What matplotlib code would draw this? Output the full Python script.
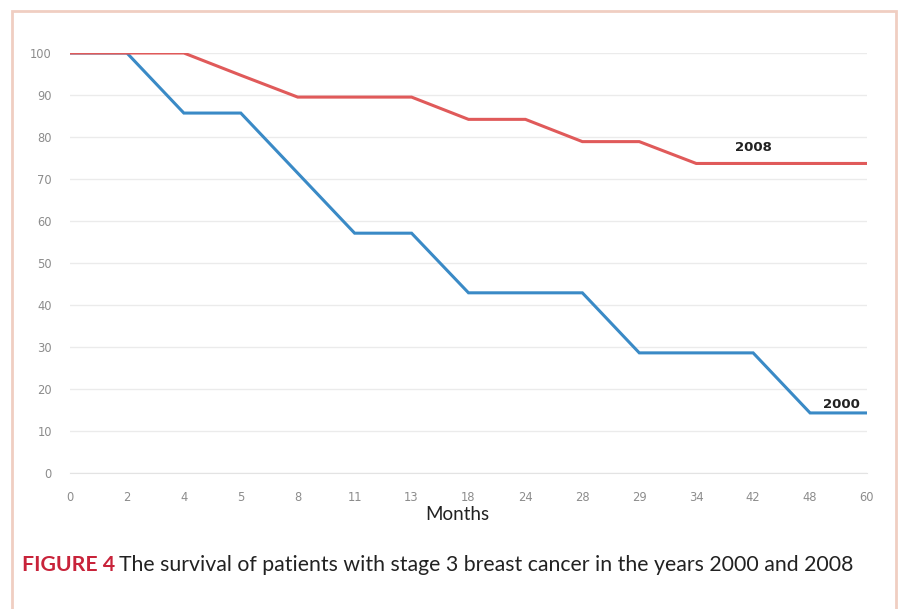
import matplotlib.pyplot as plt
from matplotlib.patches import Rectangle

# kategoriler (ay) ve iki yilin sagkalim degerleri (%)
months = ['0', '2', '4', '5', '8', '11', '13', '18', '24', '28', '29', '34', '42', '48', '60']
surv_2008 = [100, 100, 100, 94.7, 89.5, 89.5, 89.5, 84.2, 84.2, 78.9, 78.9, 73.7, 73.7, 73.7, 73.7]
surv_2000 = [100, 100, 85.7, 85.7, 71.4, 57.1, 57.1, 42.9, 42.9, 42.9, 28.6, 28.6, 28.6, 14.3, 14.3]
yticks = list(range(0, 101, 10))

fig = plt.figure(figsize=(9, 6.09), dpi=100)

# sayfadaki pembe cerceve
fig.patches.append(Rectangle((12 / 900, -0.05), 884 / 900, 1.05 - 11 / 609,
                             transform=fig.transFigure, fill=False,
                             edgecolor='#F0CEC2', linewidth=2))

ax = fig.add_axes([70 / 900, 1 - 473 / 609, 797 / 900, 420 / 609])
x = list(range(len(months)))
ax.plot(x, surv_2000, color='#3A8AC6', linewidth=2.2, solid_joinstyle='miter')
ax.plot(x, surv_2008, color='#E05A5A', linewidth=2.2, solid_joinstyle='miter')

ax.set_xlim(0, len(months) - 1)
ax.set_ylim(0, 100)
ax.set_xticks(x)
ax.set_xticklabels(months)
ax.set_yticks(yticks)
ax.tick_params(axis='both', length=0, labelsize=8.3, labelcolor='#8C8C8C')
ax.tick_params(axis='x', pad=13)
ax.tick_params(axis='y', pad=13)
ax.grid(axis='y', color='#EBEBEB', linewidth=1)
ax.set_axisbelow(True)
for s in ['top', 'right', 'left']:
    ax.spines[s].set_visible(False)
ax.spines['bottom'].set_color('#E3E3E3')

# seri etiketleri
ax.text(12, 77.5, '2008', fontsize=9.5, fontweight='bold', color='#222222', ha='center', va='center')
ax.text(13.55, 16.2, '2000', fontsize=9.5, fontweight='bold', color='#222222', ha='center', va='center')

fig.text(457 / 900, 1 - 514 / 609, 'Months', fontsize=13.5, color='#222222',
         ha='center', va='center', family='Lato')

# alt yazi
t1 = fig.text(22 / 900, 1 - 565 / 609, 'FIGURE 4', fontsize=15.3, fontweight='bold',
              color='#C8233A', ha='left', va='center', family='Lato')
fig.canvas.draw()
bb = t1.get_window_extent()
fig.text((bb.x1 + 4) / 900, 1 - 565 / 609,
         'The survival of patients with stage 3 breast cancer in the years 2000 and 2008',
         fontsize=15.3, color='#222222', ha='left', va='center', family='Lato')

fig.savefig('out.png', dpi=100)
